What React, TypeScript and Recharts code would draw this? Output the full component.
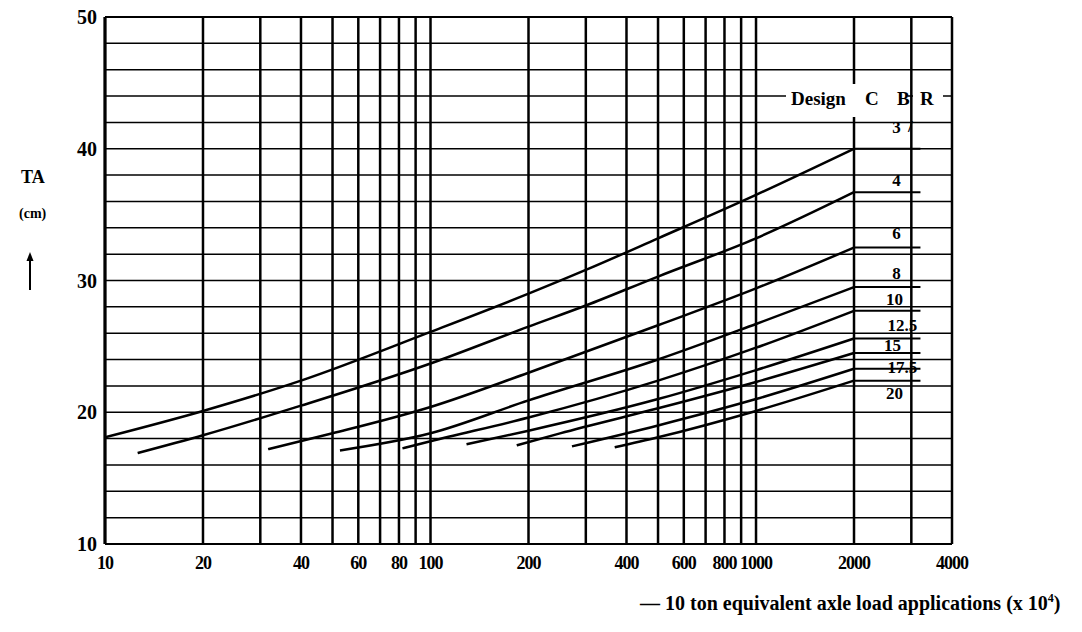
import React from 'react';
import { LineChart, Line, XAxis, YAxis, CartesianGrid, ReferenceLine, LabelList } from 'recharts';

// Design chart: TA vs 10 ton equivalent axle load applications (x 10^4)
const X_GRID = [10, 20, 30, 40, 50, 60, 70, 80, 90, 100, 200, 300, 400, 500, 600, 700, 800, 900, 1000, 2000, 3000, 4000];
const X_TICKS = [10, 20, 40, 60, 80, 100, 200, 400, 600, 800, 1000, 2000, 4000];
const Y_TICKS = [10, 12, 14, 16, 18, 20, 22, 24, 26, 28, 30, 32, 34, 36, 38, 40, 42, 44, 46, 48, 50];

const CBR3 = [
  { x: 10, y: 18.1 }, { x: 20, y: 20.1 }, { x: 40, y: 22.4 }, { x: 100, y: 26.1 }, { x: 200, y: 29.0 },
  { x: 300, y: 30.8 }, { x: 500, y: 33.2 }, { x: 1000, y: 36.5 }, { x: 2000, y: 40.0 },
];
const CBR4 = [
  { x: 12.6, y: 16.9 }, { x: 20, y: 18.25 }, { x: 40, y: 20.5 }, { x: 100, y: 23.7 }, { x: 200, y: 26.5 },
  { x: 300, y: 28.1 }, { x: 500, y: 30.3 }, { x: 1000, y: 33.2 }, { x: 2000, y: 36.7 },
];
const CBR6 = [
  { x: 31.7, y: 17.2 }, { x: 50, y: 18.4 }, { x: 100, y: 20.4 }, { x: 200, y: 23.0 },
  { x: 500, y: 26.6 }, { x: 1000, y: 29.4 }, { x: 2000, y: 32.5 },
];
const CBR8 = [
  { x: 52.7, y: 17.1 }, { x: 100, y: 18.4 }, { x: 200, y: 20.9 }, { x: 500, y: 24.0 }, { x: 1000, y: 26.7 }, { x: 2000, y: 29.5 },
];
const CBR10 = [
  { x: 82, y: 17.26 }, { x: 100, y: 17.8 }, { x: 200, y: 19.6 }, { x: 500, y: 22.4 }, { x: 1000, y: 24.9 }, { x: 2000, y: 27.7 },
];
const CBR12_5 = [
  { x: 129, y: 17.57 }, { x: 200, y: 18.6 }, { x: 500, y: 21.0 }, { x: 1000, y: 23.2 }, { x: 2000, y: 25.6 },
];
const CBR15 = [
  { x: 184, y: 17.49 }, { x: 250, y: 18.4 }, { x: 500, y: 20.3 }, { x: 1000, y: 22.3 }, { x: 2000, y: 24.5 },
];
const CBR17_5 = [
  { x: 272, y: 17.41 }, { x: 500, y: 19.0 }, { x: 1000, y: 21.0 }, { x: 2000, y: 23.3 },
];
const CBR20 = [
  { x: 368, y: 17.34 }, { x: 500, y: 18.1 }, { x: 1000, y: 20.1 }, { x: 2000, y: 22.4 },
];

const CBR_LABELS = ['3', '4', '6', '8', '10', '12.5', '15', '17.5', '20'];
const CURVES = [CBR3, CBR4, CBR6, CBR8, CBR10, CBR12_5, CBR15, CBR17_5, CBR20];
const LEADER_END = 3200;

// label offset from the right end of each leader line [dx, dy]
const LABEL_OFFSET: Record<string, [number, number]> = {
  '3': [-24, -21],
  '4': [-24, -12],
  '6': [-24, -14],
  '8': [-24, -14],
  '10': [-26, -11],
  '12.5': [-18, -13],
  '15': [-28, -7],
  '17.5': [-18, -1],
  '20': [-26, 13],
};

const SERIF = '"Liberation Serif", "DejaVu Serif", serif';

const leaderData = (curve: { x: number; y: number }[], label: string) => {
  const last = curve[curve.length - 1];
  return [
    { x: last.x, y: last.y, label: '' },
    { x: LEADER_END, y: last.y, label },
  ];
};

const CbrLabel = (props: any) => {
  const { value } = props;
  if (!value) return null;
  const x = props.x ?? props.viewBox?.x;
  const y = props.y ?? props.viewBox?.y;
  const [dx, dy] = LABEL_OFFSET[value] || [-24, -12];
  return (
    <g>
      <text
        x={x + dx}
        y={y + dy}
        textAnchor="middle"
        dominantBaseline="central"
        fontFamily={SERIF}
        fontWeight="bold"
        fontSize={17}
        fill="#000"
      >
        {value}
      </text>
      {value === '3' && (
        <text x={x - 10} y={y + dy - 1} textAnchor="middle" dominantBaseline="central" fontFamily={SERIF} fontWeight="bold" fontSize={17} fill="#000">
          /
        </text>
      )}
    </g>
  );
};

const XTick = (props: any) => {
  const { x, y, payload } = props;
  return (
    <text
      x={x}
      y={y + 4}
      dy="0.71em"
      textAnchor="middle"
      fontFamily={SERIF}
      fontWeight="bold"
      fontSize={18}
      letterSpacing={-1}
      fill="#000"
    >
      {payload.value}
    </text>
  );
};

const textBase = { position: 'absolute' as const, zIndex: 3, fontFamily: SERIF, fontWeight: 'bold' as const, color: '#000', whiteSpace: 'pre' as const };

export default function App() {
  return (
    <div style={{ position: 'absolute', left: 0, top: 0, width: 1082, height: 632, background: '#fff' }}>
      <LineChart width={1082} height={632} style={{ zIndex: 0 }} margin={{ top: 17, right: 130, left: 45, bottom: 58 }}>
        <CartesianGrid vertical={false} stroke="#000" strokeWidth={1.5} />
        <XAxis
          dataKey="x"
          type="number"
          scale="log"
          domain={[10, 4000]}
          allowDataOverflow
          ticks={X_TICKS}
          interval={0}
          height={30}
          tickLine={false}
          axisLine={{ stroke: '#000', strokeWidth: 2 }}
          tick={XTick}
        />
        <YAxis
          type="number"
          domain={[10, 50]}
          ticks={Y_TICKS}
          interval={0}
          width={60}
          tickLine={false}
          tickFormatter={(v: number) => (v % 10 === 0 ? String(v) : '')}
          axisLine={{ stroke: '#000', strokeWidth: 3 }}
          tick={{ fontFamily: SERIF, fontWeight: 'bold', fontSize: 20, fill: '#000' }}
        />
        {X_GRID.map((v) => (
          <ReferenceLine key={`vx-${v}`} x={v} stroke="#000" strokeWidth={2.5} />
        ))}
        <ReferenceLine y={50} stroke="#000" strokeWidth={2} />
        {CURVES.map((curve, i) => (
          <Line
            key={`cbr-${CBR_LABELS[i]}`}
            data={curve}
            dataKey="y"
            type="monotone"
            stroke="#000"
            strokeWidth={2.5}
            dot={false}
            isAnimationActive={false}
          />
        ))}
        {CURVES.map((curve, i) => (
          <Line
            key={`lead-${CBR_LABELS[i]}`}
            data={leaderData(curve, CBR_LABELS[i])}
            dataKey="y"
            type="linear"
            stroke="#000"
            strokeWidth={2}
            dot={false}
            isAnimationActive={false}
          >
            <LabelList dataKey="label" content={CbrLabel} />
          </Line>
        ))}
      </LineChart>

      <div style={{ position: 'absolute', zIndex: 2, left: 786, top: 84, width: 122, height: 33, background: '#fff' }} />
      <div style={{ position: 'absolute', zIndex: 2, left: 913, top: 84, width: 30, height: 22, background: '#fff' }} />
      <div style={{ ...textBase, left: 791, top: 88, fontSize: 19, lineHeight: '22px' }}>Design</div>
      <div style={{ ...textBase, left: 865, top: 88, fontSize: 19, lineHeight: '22px' }}>C</div>
      <div style={{ ...textBase, left: 897, top: 88, fontSize: 19, lineHeight: '22px' }}>B</div>
      <div style={{ ...textBase, left: 920, top: 88, fontSize: 19, lineHeight: '22px' }}>R</div>

      <div style={{ ...textBase, left: 21, top: 167, fontSize: 18, lineHeight: '20px' }}>TA</div>
      <div style={{ ...textBase, left: 19, top: 206, fontSize: 14, lineHeight: '16px' }}>(cm)</div>
      <svg style={{ position: 'absolute', left: 24, top: 252 }} width={12} height={40}>
        <line x1={6} y1={6} x2={6} y2={38} stroke="#000" strokeWidth={2} />
        <polygon points="6,0 2.5,9 9.5,9" fill="#000" />
      </svg>

      <div style={{ ...textBase, left: 640, top: 586, fontSize: 20, lineHeight: '24px' }}>
        — 10 ton equivalent axle load applications (x 10<sup style={{ fontSize: 12 }}>4</sup>)
      </div>
    </div>
  );
}
